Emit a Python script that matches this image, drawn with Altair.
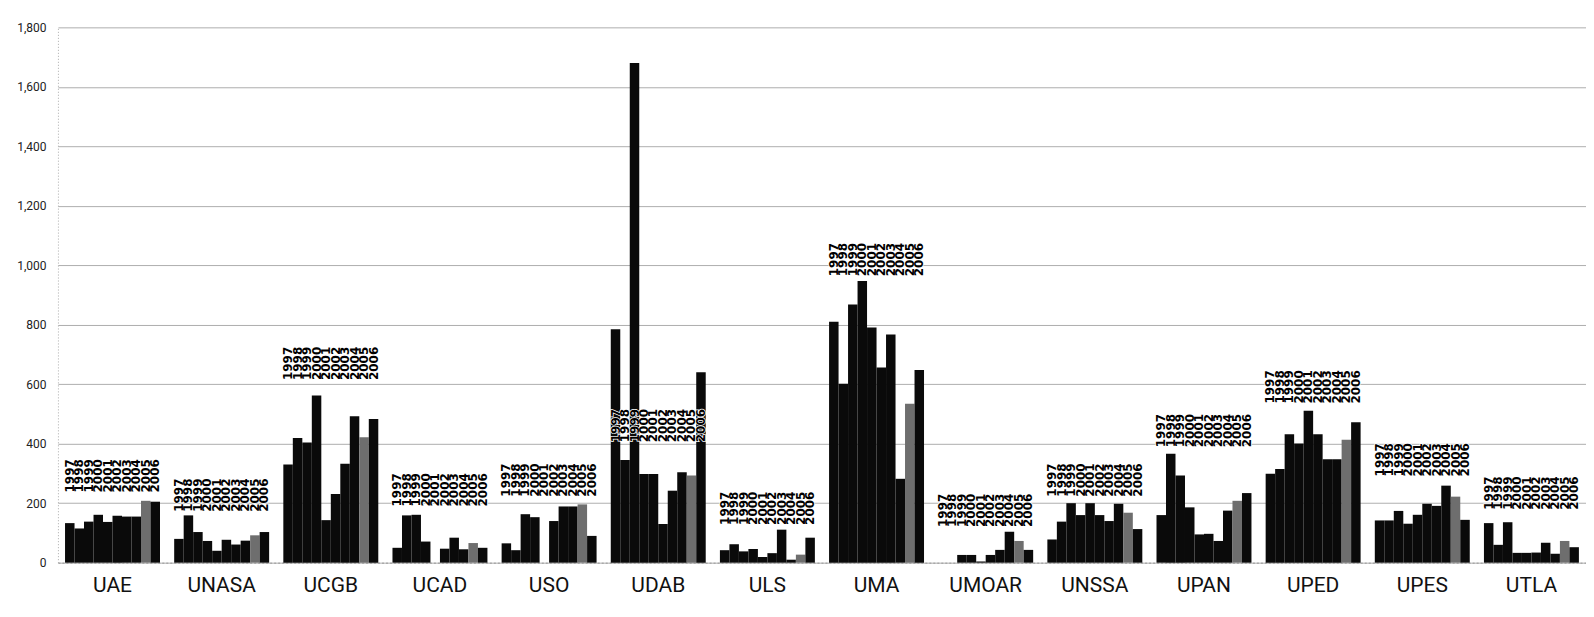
import altair as alt
import pandas as pd

universities = ["UAE", "UNASA", "UCGB", "UCAD", "USO", "UDAB", "ULS",
                "UMA", "UMOAR", "UNSSA", "UPAN", "UPED", "UPES", "UTLA"]
years = ["1997", "1998", "1999", "2000", "2001", "2002", "2003", "2004", "2005", "2006"]

UAE = [133, 115, 138, 161, 137, 158, 155, 155, 208, 205]
UNASA = [80, 159, 103, 73, 40, 77, 61, 74, 92, 103]
UCGB = [330, 419, 404, 562, 143, 231, 333, 492, 422, 483]
UCAD = [50, 159, 161, 71, 0, 47, 84, 45, 66, 50]
USO = [65, 42, 163, 153, 0, 140, 189, 189, 196, 90]
UDAB = [785, 345, 1680, 298, 298, 130, 242, 304, 293, 640]
ULS = [42, 62, 38, 46, 19, 32, 111, 10, 27, 84]
UMA = [810, 602, 868, 947, 791, 656, 767, 282, 534, 648]
UMOAR = [0, 0, 26, 26, 4, 26, 43, 104, 73, 43]
UNSSA = [78, 138, 200, 160, 200, 160, 140, 198, 168, 113]
UPAN = [160, 366, 293, 186, 95, 97, 73, 175, 208, 234]
UPED = [299, 315, 432, 401, 511, 432, 348, 348, 413, 472]
UPES = [142, 142, 174, 131, 161, 198, 191, 259, 222, 144]
UTLA = [133, 60, 136, 33, 33, 34, 67, 30, 73, 52]

series = [UAE, UNASA, UCGB, UCAD, USO, UDAB, ULS, UMA, UMOAR, UNSSA, UPAN, UPED, UPES, UTLA]

# value level at which each group's year labels start
label_level = [236, 171, 614, 189, 222, 405, 127, 963, 120, 222, 388, 535, 290, 178]

bar_colors = ["#0a0a0a"] * 8 + ["#6e6e6e", "#0a0a0a"]

rows = []
for u, vals, lv in zip(universities, series, label_level):
    for yr, v in zip(years, vals):
        rows.append({"univ": u, "year": yr, "value": v, "label_y": lv})
df = pd.DataFrame(rows)

x_enc = alt.X(
    "univ:N", sort=universities,
    scale=alt.Scale(paddingInner=0.13, paddingOuter=0.065),
    axis=alt.Axis(title=None, labelAngle=0, labelFont="Roboto", labelFontSize=21,
                  labelColor="#111", labelPadding=12, ticks=False,
                  domain=True, domainColor="#999", domainDash=[2, 2]),
)
xoff = alt.XOffset("year:N", sort=years)

base = alt.Chart(df)

bars = base.mark_bar().encode(
    x=x_enc,
    xOffset=xoff,
    y=alt.Y("value:Q",
            scale=alt.Scale(domain=[0, 1800], nice=False),
            axis=alt.Axis(title=None, values=list(range(0, 1801, 200)), format=",.0f",
                          labelFont="Roboto", labelFontSize=12, labelColor="#222",
                          labelPadding=12, ticks=False, domain=True,
                          domainColor="#aaa", domainDash=[1, 2],
                          grid=True, gridColor="#999999", gridWidth=1, gridOpacity=0.8)),
    color=alt.Color("year:N", scale=alt.Scale(domain=years, range=bar_colors), legend=None),
)

halo = base.mark_text(
    angle=270, align="left", baseline="middle", font="DejaVu Sans",
    fontWeight="bold", fontSize=12, color="white", stroke="white", strokeWidth=1.5,
).encode(x=x_enc, xOffset=xoff, y=alt.Y("label_y:Q"), text="year:N")

labels = base.mark_text(
    angle=270, align="left", baseline="middle", font="DejaVu Sans",
    fontWeight="bold", fontSize=12, color="#000",
).encode(x=x_enc, xOffset=xoff, y=alt.Y("label_y:Q"), text="year:N")

chart = alt.layer(bars, halo, labels).properties(
    width=1530, height=536,
    autosize=alt.AutoSizeParams(type="none"),
    padding={"left": 50, "top": 19, "right": 0, "bottom": 36},
    background="white",
).configure_view(stroke=None)

chart.save("out.html", embed_options={"renderer": "svg", "actions": False})
